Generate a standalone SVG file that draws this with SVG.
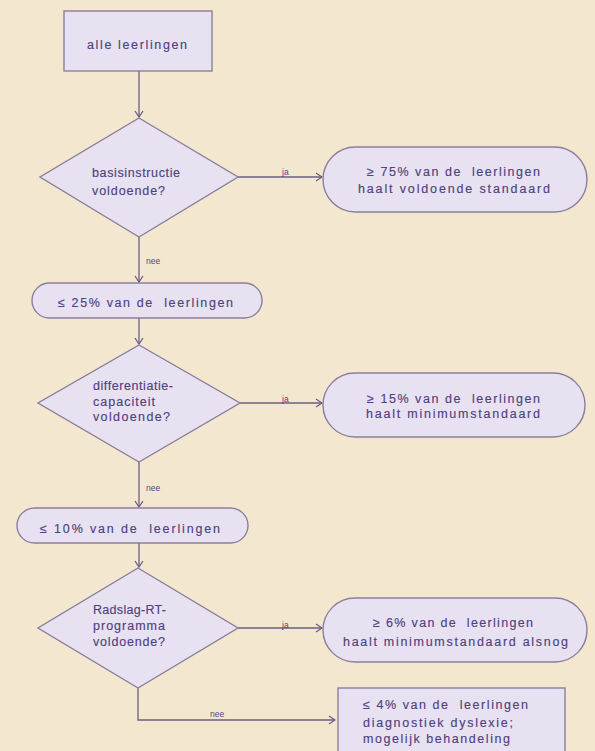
<svg xmlns="http://www.w3.org/2000/svg" width="595" height="751" viewBox="0 0 595 751">
<style>
.node{fill:#e7e1f1;stroke:#8a7f9c;stroke-width:1.4}
.t{font-family:"Liberation Sans",Arial,sans-serif;font-size:12.5px;fill:#4f4280;stroke:#4f4280;stroke-width:0.15}
.lbl{font-family:"Liberation Sans",Arial,sans-serif;font-size:8.5px;fill:#54467e}
.edge{fill:none;stroke:#6c5e84;stroke-width:1.3}
</style>
<defs>
<marker id="arr" markerWidth="8" markerHeight="10" refX="7" refY="5" orient="auto" markerUnits="userSpaceOnUse">
<path d="M1,1 L7,5 L1,9" fill="none" stroke="#6c5e84" stroke-width="1.3"/>
</marker>
</defs>
<rect width="595" height="751" fill="#f4e7cf"/>
<g id="connectors">
<path class="edge" d="M139,71 V117" marker-end="url(#arr)"/>
<path class="edge" d="M139,237 V282" marker-end="url(#arr)"/>
<path class="edge" d="M139,318 V344" marker-end="url(#arr)"/>
<path class="edge" d="M139,462 V507" marker-end="url(#arr)"/>
<path class="edge" d="M139,543 V567" marker-end="url(#arr)"/>
<path class="edge" d="M138,688 V720 H335" marker-end="url(#arr)"/>
<path class="edge" d="M238,177 H322" marker-end="url(#arr)"/>
<path class="edge" d="M240,403 H322" marker-end="url(#arr)"/>
<path class="edge" d="M238,628 H322" marker-end="url(#arr)"/>
<text class="lbl" x="282" y="175">ja</text>
<text class="lbl" x="282" y="402">ja</text>
<text class="lbl" x="282" y="628">ja</text>
<text class="lbl" x="146" y="264">nee</text>
<text class="lbl" x="146" y="491">nee</text>
<text class="lbl" x="210" y="717">nee</text>
</g>
<g id="n1">
<rect class="node" x="64" y="11" width="148" height="60"/>
<text class="t" x="87" y="49" textLength="100">alle leerlingen</text>
</g>
<g id="d1">
<polygon class="node" points="139,118 238,177 139,237 40,177"/>
<text class="t" x="92" y="177" textLength="88">basisinstructie</text>
<text class="t" x="92" y="195" textLength="73">voldoende?</text>
</g>
<g id="s1">
<rect class="node" x="323" y="147" width="264" height="65" rx="32.5"/>
<text class="t" x="367" y="176" textLength="173" xml:space="preserve">≥ 75% van de  leerlingen</text>
<text class="t" x="358" y="193" textLength="192">haalt voldoende standaard</text>
</g>
<g id="s2">
<rect class="node" x="32" y="283" width="230" height="35" rx="17.5"/>
<text class="t" x="58" y="307" textLength="175" xml:space="preserve">≤ 25% van de  leerlingen</text>
</g>
<g id="d2">
<polygon class="node" points="139,345 240,403 139,462 38,403"/>
<text class="t" x="93" y="390" textLength="80">differentiatie-</text>
<text class="t" x="93" y="406" textLength="62">capaciteit</text>
<text class="t" x="93" y="421" textLength="77">voldoende?</text>
</g>
<g id="s3">
<rect class="node" x="323" y="373" width="262" height="64" rx="32"/>
<text class="t" x="367" y="403" textLength="173" xml:space="preserve">≥ 15% van de  leerlingen</text>
<text class="t" x="366" y="418" textLength="174">haalt minimumstandaard</text>
</g>
<g id="s4">
<rect class="node" x="17" y="508" width="231" height="35" rx="17.5"/>
<text class="t" x="40" y="533" textLength="180" xml:space="preserve">≤ 10% van de  leerlingen</text>
</g>
<g id="d3">
<polygon class="node" points="138,568 238,628 138,688 38,628"/>
<text class="t" x="93" y="614" textLength="73">Radslag-RT-</text>
<text class="t" x="93" y="630" textLength="72">programma</text>
<text class="t" x="93" y="646" textLength="72">voldoende?</text>
</g>
<g id="s5">
<rect class="node" x="323" y="598" width="264" height="64" rx="32"/>
<text class="t" x="373" y="627" textLength="160" xml:space="preserve">≥ 6% van de  leerlingen</text>
<text class="t" x="343" y="646" textLength="225">haalt minimumstandaard alsnog</text>
</g>
<g id="n6">
<rect class="node" x="338" y="688" width="227" height="72"/>
<text class="t" x="363" y="709" textLength="165" xml:space="preserve">≤ 4% van de  leerlingen</text>
<text class="t" x="363" y="727" textLength="150">diagnostiek dyslexie;</text>
<text class="t" x="363" y="743" textLength="147">mogelijk behandeling</text>
</g>
</svg>
